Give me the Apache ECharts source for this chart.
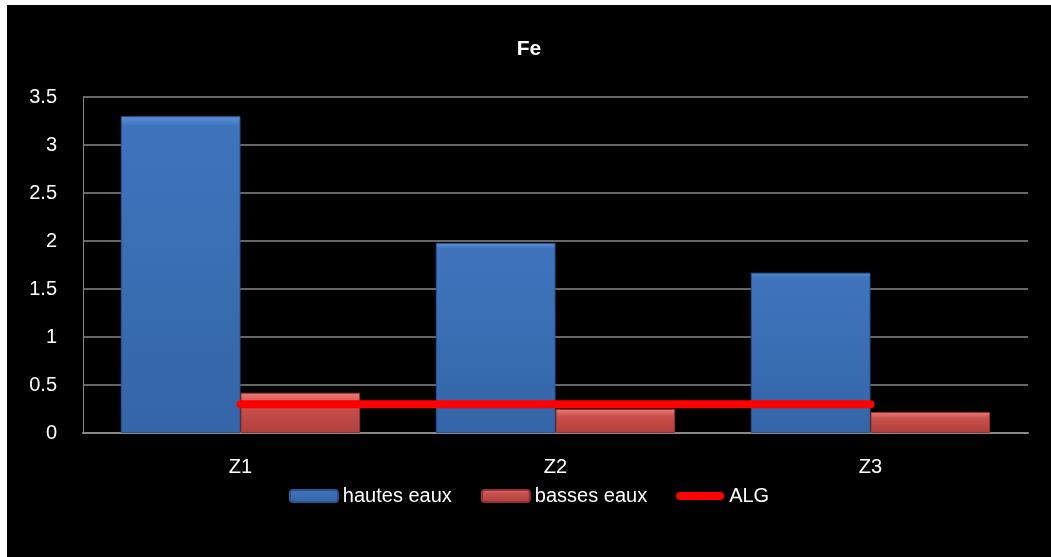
<!DOCTYPE html>
<html>
<head>
<meta charset="utf-8">
<script src="https://cdn.jsdelivr.net/npm/echarts@6/dist/echarts.min.js"></script>
<style>
  html, body { margin: 0; padding: 0; background: #fff; }
  #main { position: absolute; left: 7px; top: 5px; width: 1044px; height: 552px; background: #000; }
</style>
</head>
<body>
<div id="main"></div>
<script>
const categories = ['Z1', 'Z2', 'Z3']
const hautesEaux = [3.3, 1.98, 1.67]
const bassesEaux = [0.42, 0.25, 0.22]
const alg = [0.3, 0.3, 0.3]

const chart = echarts.init(document.getElementById('main'))
const font = 'Liberation Sans'

const option = {
  backgroundColor: '#000',
  animation: false,
  title: {
    text: 'Fe',
    left: 'center',
    top: 29,
    textStyle: { color: '#fff', fontSize: 21, fontWeight: 'bold', fontFamily: font }
  },
  legend: {
    top: 476,
    left: 'center',
    itemWidth: 48,
    itemHeight: 12,
    itemGap: 29,
    textStyle: { color: '#fff', fontSize: 20, fontFamily: font },
    data: [
      { name: 'hautes eaux' },
      { name: 'basses eaux' },
      { name: 'ALG', icon: 'path://M4,0 h40 a4,4 0 0 1 0,8 h-40 a4,4 0 0 1 0,-8z', itemStyle: { color: '#ff0000' } }
    ]
  },
  grid: { left: 76, right: 23, top: 92, bottom: 124 },
  xAxis: {
    type: 'category',
    data: categories,
    axisLine: { lineStyle: { color: '#888', width: 2 } },
    axisTick: { show: false },
    axisLabel: { color: '#fff', fontSize: 20, fontFamily: font, margin: 24 }
  },
  yAxis: {
    type: 'value',
    min: 0,
    max: 3.5,
    interval: 0.5,
    axisLine: { show: true, lineStyle: { color: '#888' } },
    axisTick: { show: false },
    splitLine: { lineStyle: { color: '#888', width: 1.5 } },
    axisLabel: { color: '#fff', fontSize: 20, fontFamily: font, margin: 26 }
  },
  series: [
    {
      name: 'hautes eaux',
      type: 'bar',
      data: hautesEaux,
      barGap: '0%',
      barCategoryGap: '24%',
      itemStyle: {
        color: new echarts.graphic.LinearGradient(0, 0, 0, 1, [
          { offset: 0, color: '#5c93d8' },
          { offset: 0.03, color: '#3f74bd' },
          { offset: 1, color: '#3565a8' }
        ]),
        borderColor: '#2a5490',
        borderWidth: 1
      }
    },
    {
      name: 'basses eaux',
      type: 'bar',
      data: bassesEaux,
      itemStyle: {
        color: new echarts.graphic.LinearGradient(0, 0, 0, 1, [
          { offset: 0, color: '#ee7c78' },
          { offset: 0.3, color: '#c9504c' },
          { offset: 1, color: '#b0403d' }
        ]),
        borderColor: '#8f3331',
        borderWidth: 1
      }
    },
    {
      name: 'ALG',
      type: 'line',
      data: alg,
      symbol: 'none',
      lineStyle: { color: '#ff0000', width: 8, cap: 'round' },
      itemStyle: { color: '#ff0000' },
      z: 5
    }
  ]
}

chart.setOption(option)
</script>
</body>
</html>
